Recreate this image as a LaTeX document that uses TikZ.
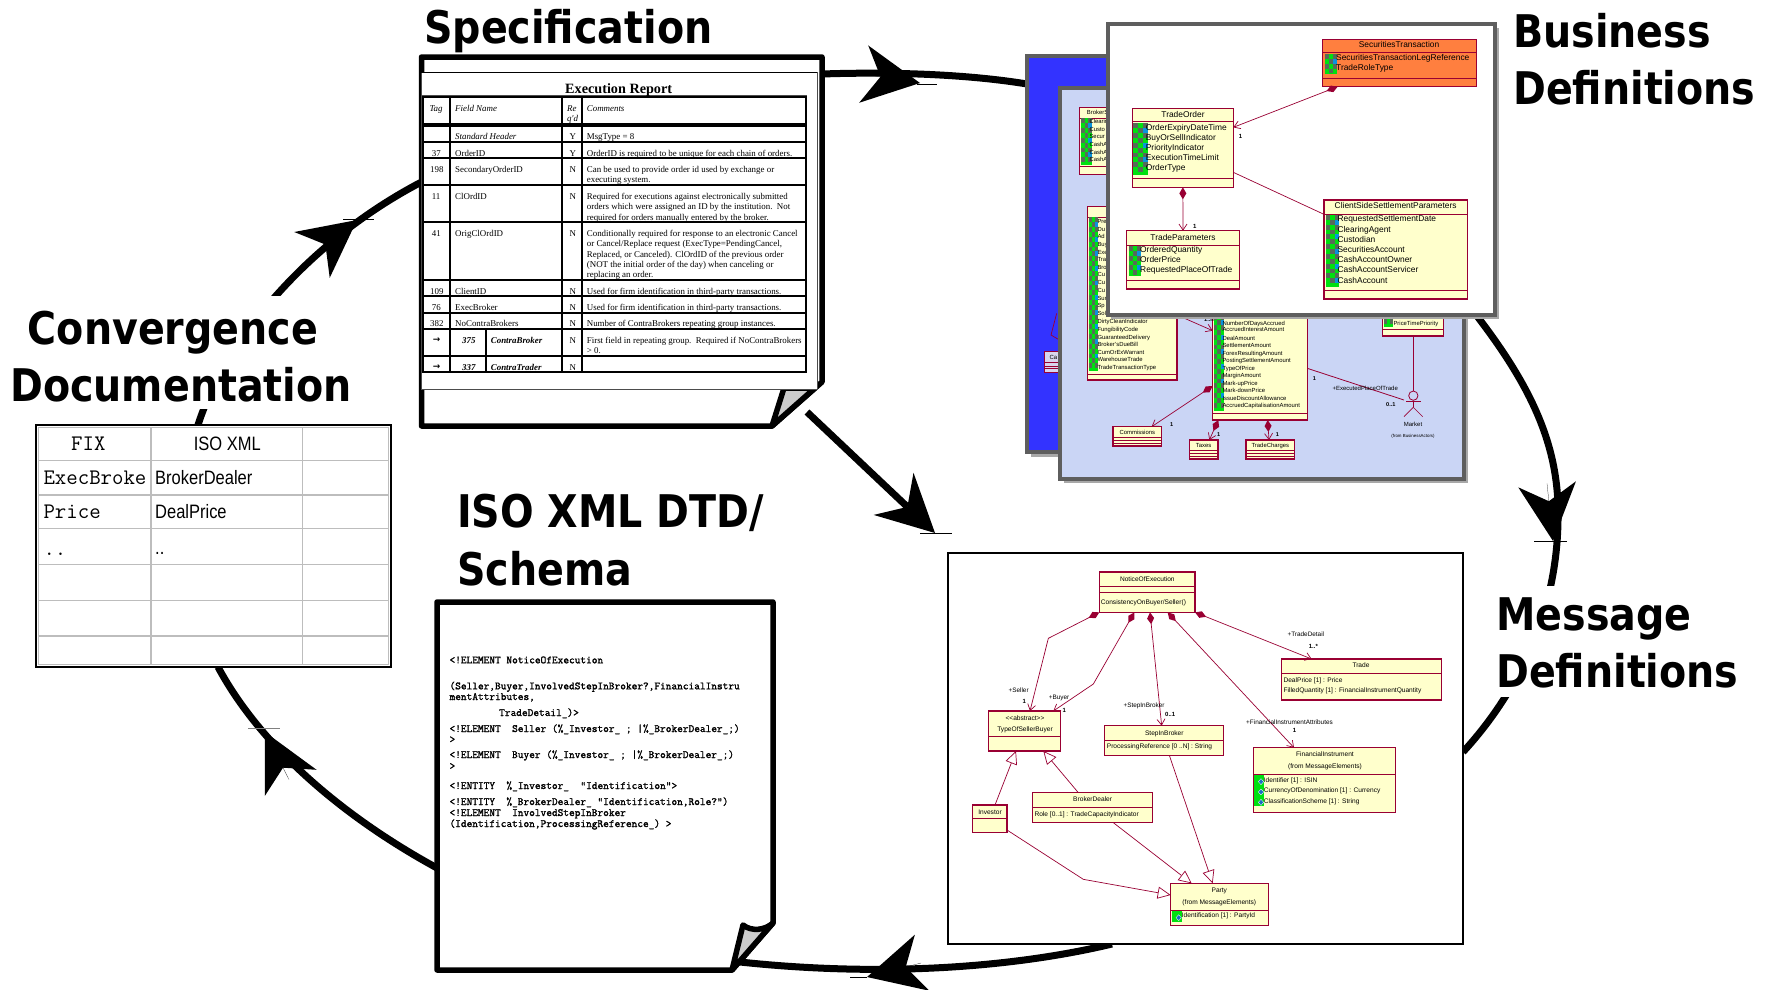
\documentclass[tikz,border=0pt]{standalone}
\usepackage{fontspec}
\usetikzlibrary{arrows.meta,calc}
\setmainfont{Liberation Sans}
\newfontfamily\serf{Liberation Serif}
\newfontfamily\arrf{DejaVu Sans}
\newfontfamily\monob[FakeBold=1.6]{Latin Modern Mono}
\newfontfamily\narrowf[FakeStretch=0.85]{Liberation Sans}
\newfontfamily\titlef[FakeStretch=0.88]{DejaVu Sans}
\definecolor{umlR}{HTML}{990033}
\definecolor{umlY}{HTML}{FFFFCC}
\definecolor{frameG}{HTML}{5E5E5E}
\definecolor{shadeG}{HTML}{A8A8A8}
\definecolor{peri}{HTML}{CAD5F5}
\definecolor{bluef}{HTML}{3333FF}
\definecolor{orangef}{HTML}{FF7F3F}
\definecolor{gridG}{HTML}{BDBDBD}
\definecolor{chkG}{HTML}{566B58}
\definecolor{chkL}{HTML}{00E010}
\newcounter{tn}
\def\tf{\normalfont}
\def\zs{1}
\newcommand\Tx[3]{\stepcounter{tn}\node[anchor=base west,inner sep=0pt,font=\tf] (t\arabic{tn}) at (#1,#2) {#3};}
\newcommand\Cx[3]{\stepcounter{tn}\node[anchor=base,inner sep=0pt,font=\tf] (t\arabic{tn}) at (#1,#2) {#3};}
\newcommand\bx[6][]{%
  \pgfmathsetmacro\bw{(#5-#3)*\zs}\pgfmathsetmacro\bh{(#6-#4)*\zs}%
  \node[rectangle,inner sep=0pt,outer sep=0pt,minimum width=\bw pt,minimum height=\bh pt,#1] (#2) at ({(#3+#5)/2},{(#4+#6)/2}) {};}
\newcommand\cls[5]{\bx[cbox]{#1}{#2}{#3}{#4}{#5}}
\newcommand\cln[2]{\draw[umlline] (#1.west |- 0,#2) -- (#1.east |- 0,#2);}
\newcommand\chk[4]{%
  \fill[chkL] (#1,#2) rectangle (#3,#4);
  \pgfmathsetmacro\cw{(#3-#1)/3}%
  \pgfmathtruncatemacro\rn{floor((#4-#2)/14.6)-1}%
  \foreach \i in {0,...,\rn}{\foreach \j in {0,1,2}{%
    \pgfmathsetmacro\xa{#1+\j*\cw}\pgfmathsetmacro\ya{#2+\i*14.6}%
    \pgfmathtruncatemacro\pty{mod(\i+\j,2)}%
    \pgfmathtruncatemacro\cy{(\j==2)&&(mod(\i,3)==1)}%
    \ifnum\cy=1 \fill[cyan!80!blue] (\xa,\ya) rectangle ++(\cw,14.6);
    \else\ifnum\pty=0 \fill[chkG] (\xa,\ya) rectangle ++(\cw,14.6);\fi\fi
  }}}
\newcommand\ico[2]{\filldraw[fill=cyan!50!blue,draw=white,line width=.3pt] (#1-8,#2) -- (#1,#2-9) -- (#1+8,#2) -- (#1,#2+9) -- cycle;}
\tikzset{
  cbox/.style={draw=umlR,fill=umlY,line width=1.1pt},
  umlline/.style={draw=umlR,line width=.9pt},
  frameb/.style={draw=frameG,line width=4pt},
  assoc/.style={draw=umlR,line width=.7pt},
  opena/.style={assoc,-{Straight Barb[length=6pt,width=8pt,line width=.7pt]}},
  dopen/.style={assoc,{Diamond[length=12pt,width=7pt,fill=umlR,line width=0pt]}-{Straight Barb[length=6pt,width=8pt,line width=.7pt]}},
  gen/.style={assoc,-{Triangle[open,length=13pt,width=12pt,fill=white,line width=.7pt]}},
  arc/.style={line width=7pt,black},
  bigh/.style={line width=.2pt,black,-{Stealth[length=57pt,width=58pt,inset=17pt,line width=0pt]}},
  tick/.style={line width=1pt,black},
  docshape/.style={draw=black,fill=white,line width=5.5pt,line join=round},
  titlen/.style={anchor=north west,align=left,inner sep=0pt,fill=white,font=\titlef\bfseries\fontsize{45}{57}\selectfont},
  tbl/.style={line width=1.7pt,black},
}
\begin{document}
\begin{tikzpicture}[x=1pt,y=-1pt]
\path[use as bounding box,fill=white] (0,0) rectangle (1773,989);
% --- anchor nodes for the main shapes (no drawing)
\bx{specdoc}{421.5}{57}{822}{426}
\bx{bluef}{1027}{55.5}{1200}{452}
\bx{frameB}{1060}{88}{1464}{479}
\bx{frameC}{1107.5}{23.7}{1495}{314.7}
\bx{msgf}{948}{553}{1463}{944}
\bx{isodoc}{437}{602}{773}{970}
\bx{ctable}{36}{425}{391}{667}
% --- main cycle arcs
\draw[arc] ([shift={(0,17)}]specdoc.north east) .. controls (880,72) and (960,73) .. ([shift={(0,28.5)}]bluef.north west);
\draw[arc] ([shift={(-19,0)}]frameC.south east) .. controls (1530,385) and (1560,445) .. (1558,520) .. controls (1557,610) and (1520,690) .. ([shift={(0,199)}]msgf.north east);
\draw[arc] ([shift={(164,0)}]msgf.south west) .. controls (1020,966) and (890,978) .. ([shift={(-33,-8)}]isodoc.south east);
\draw[arc] ([shift={(0,-102)}]isodoc.south west) .. controls (340,815) and (260,745) .. ([shift={(182,0)}]ctable.south west);
\draw[arc] ([shift={(162,0)}]ctable.north west) .. controls (225,340) and (310,240) .. ([shift={(0,125)}]specdoc.north west);
\draw[arc,-{Stealth[length=57pt,width=58pt,inset=19pt,line width=0pt]}] ([shift={(-15,-14)}]specdoc.south east) -- ([shift={(-13,-20)}]msgf.north west);
% --- arrow heads on the arcs
\coordinate (h1b) at (863,74); \coordinate (h1t) at (920,83);
\coordinate (h2b) at (1547,483.5); \coordinate (h2t) at (1553,541);
\coordinate (h4b) at (921,963); \coordinate (h4t) at (867,977);
\coordinate (h5b) at (289,779.5); \coordinate (h5t) at (265,732);
\coordinate (h6b) at (312.5,254.5); \coordinate (h6t) at (357,220);
\draw[bigh] (h1b) -- (h1t);
\draw[bigh] (h2b) -- (h2t);
\draw[bigh] (h4b) -- (h4t);
\draw[bigh] (h5b) -- (h5t);
\draw[bigh] (h6b) -- (h6t);
\coordinate (k1a) at (917,84); \coordinate (k1b) at (937,84); \draw[tick] (k1a) -- (k1b);
\coordinate (k2a) at (1534,541); \coordinate (k2b) at (1567,541); \draw[tick] (k2a) -- (k2b);
\coordinate (k3a) at (920,533); \coordinate (k3b) at (952,533); \draw[tick] (k3a) -- (k3b);
\coordinate (k4a) at (850,977); \coordinate (k4b) at (867,977); \draw[tick] (k4a) -- (k4b);
\coordinate (k5a) at (248,728); \coordinate (k5b) at (280,728); \draw[tick,gray] (k5a) -- (k5b);
\coordinate (k6a) at (343,219); \coordinate (k6b) at (374,219); \draw[tick] (k6a) -- (k6b);
% --- titles
\node[titlen] (tSpec) at (424,9) {Specification};
\node[titlen] (tBiz) at (1513,13) {Business\\Definitions};
\node[titlen] (tMsg) at (1496,586) {\rule{0pt}{44pt}Message\\Definitions\rule[-10pt]{0pt}{10pt}};
\node[titlen,anchor=north,align=center] (tConv) at (181,296) {\rule{0pt}{48pt}Convergence\hspace*{16pt}\\Documentation\rule[-8pt]{0pt}{8pt}};
\node[titlen] (tIso) at (457,494) {ISO XML DTD/\\[1pt]Schema};
% --- specification document
\draw[docshape] (421.5,57) -- (822,57) -- (822,382) -- (772,426) -- (421.5,426) -- cycle;
\draw[draw=black,fill=black!20,line width=5.5pt,line join=round] (772,426) -- (784,388) -- (815,388) -- cycle;
\bx[draw=black!70,fill=white,line width=1pt]{specimg}{421}{72}{817}{389}
\begin{scope}[shift={(400,40)},x=0.33333pt,y=-0.33333pt]
\def\zs{0.33333}
\draw[black!70,line width=.8pt] (63,165) -- (1220,165);
\draw[black,line width=1.6pt] (63,97) -- (1250,97);
\def\tf{\serf\bfseries\fontsize{14.2}{15}\selectfont}
\Cx{656}{159}{Execution Report}
\def\tf{\serf\fontsize{8.9}{10}\selectfont}
\Tx{88}{215}{\itshape Tag}\Tx{165}{215}{\itshape Field Name}\Tx{501}{215}{\itshape Re}\Tx{501}{245}{\itshape q'd}\Tx{560}{215}{\itshape Comments}
\Tx{165}{299}{\itshape Standard Header}\Tx{508}{299}{Y}\Tx{560}{299}{MsgType = 8}
\Tx{95}{350}{37}\Tx{165}{350}{OrderID}\Tx{508}{350}{Y}\Tx{560}{350}{OrderID is required to be unique for each chain of orders.}
\Tx{90}{398}{198}\Tx{165}{398}{SecondaryOrderID}\Tx{508}{398}{N}\Tx{560}{398}{Can be used to provide order id used by exchange or}\Tx{560}{428}{executing system.}
\Tx{95}{479}{11}\Tx{165}{479}{ClOrdID}\Tx{508}{479}{N}\Tx{560}{479}{Required for executions against electronically submitted}\Tx{560}{509}{orders which were assigned an ID by the institution.~~Not}\Tx{560}{542}{required for orders manually entered by the broker.}
\Tx{95}{590}{41}\Tx{165}{590}{OrigClOrdID}\Tx{508}{590}{N}\Tx{560}{590}{Conditionally required for response to an electronic Cancel}\Tx{560}{620}{or Cancel/Replace request (ExecType=PendingCancel,}\Tx{560}{653}{Replaced, or Canceled). ClOrdID of the previous order}\Tx{560}{683}{(NOT the initial order of the day) when canceling or}\Tx{560}{713}{replacing an order.}
\Tx{90}{764}{109}\Tx{165}{764}{ClientID}\Tx{508}{764}{N}\Tx{560}{764}{Used for firm identification in third-party transactions.}
\Tx{95}{812}{76}\Tx{165}{812}{ExecBroker}\Tx{508}{812}{N}\Tx{560}{812}{Used for firm identification in third-party transactions.}
\Tx{90}{860}{382}\Tx{165}{860}{NoContraBrokers}\Tx{508}{860}{N}\Tx{560}{860}{Number of ContraBrokers repeating group instances.}
\Tx{98}{908}{\arrf\bfseries →}\Tx{186}{911}{\bfseries\itshape 375}\Tx{272}{911}{\bfseries\itshape ContraBroker}\Tx{508}{911}{N}\Tx{560}{911}{First field in repeating group.~~Required if NoContraBrokers}\Tx{560}{941}{> 0.}
\Tx{98}{988}{\arrf\bfseries →}\Tx{186}{992}{\bfseries\itshape 337}\Tx{272}{992}{\bfseries\itshape ContraTrader}\Tx{508}{992}{N}
\foreach \y in {252,257,305,355,435,545,720,768,818,866,948}{\draw[tbl] (68,\y) -- (1218,\y);}
\draw[tbl,line width=2pt] (68,170) rectangle (1218,997);
\foreach \x in {150,487,547}{\draw[tbl] (\x,170) -- (\x,997);}
\draw[tbl] (258,866) -- (258,997);
\end{scope}
% --- blue frame
\fill[shadeG] (1031,60) rectangle (1204,457);
\bx[frameb,fill=bluef]{blueface}{1027}{55.5}{1200}{452}
\begin{scope}[shift={(1010,300)},x=0.33333pt,y=-0.33333pt]
\def\zs{0.33333}
\coordinate (caa) at (140,40); \coordinate (cab) at (123,105); \coordinate (cac) at (145,118);
\draw[assoc] (caa) -- (cab) -- (cac);
\bx[draw=umlR,fill=cyan!15!blue!15!white,line width=1pt]{cabox}{102}{155}{170}{218}
\draw[umlline] (102,187) -- (170,187); \draw[umlline] (102,198) -- (170,198); \draw[umlline] (102,206) -- (170,206);
\def\tf{\fontsize{6}{7}\selectfont}
\Tx{118}{178}{Ca}
\end{scope}
% --- periwinkle frame
\fill[shadeG] (1064,92) rectangle (1468,483);
\bx[frameb,fill=peri]{periface}{1060}{88}{1464}{479}
\begin{scope}[shift={(1010,10)},x=0.33333pt,y=-0.33333pt]
\def\zs{0.33333}
\def\tf{\fontsize{5.9}{7}\selectfont}
\cls{brokerS}{209}{293}{360}{493}
\cln{brokerS}{324}\cln{brokerS}{470}
\chk{213}{325}{246}{465}
\Tx{230}{313}{BrokerS}
\Tx{238}{341}{Clearin}\Tx{238}{365}{Custo}\Tx{238}{386}{Secur}\Tx{238}{410}{CashA}\Tx{238}{434}{CashA}\Tx{238}{455}{CashA}
\cls{bigA}{232}{590}{501}{1110}
\cln{bigA}{622}\cln{bigA}{1092}
\chk{238}{622}{264}{1082}
\Tx{262}{640}{Pre}\Tx{262}{663}{Du}\Tx{262}{685}{Ad}\Tx{262}{710}{Buy}\Tx{262}{733}{Exe}\Tx{262}{755}{Tra}\Tx{262}{778}{Bro}\Tx{262}{800}{Cu}\Tx{262}{823}{Cu}\Tx{262}{848}{Cu}\Tx{262}{870}{Sur}\Tx{262}{893}{Sp}\Tx{262}{915}{Sol}
\Tx{262}{940}{DirtyCleanIndicator}\Tx{262}{963}{FungibilityCode}\Tx{262}{987}{GuaranteedDelivery}\Tx{262}{1008}{Broker'sDueBill}\Tx{262}{1032}{CumOrExWarrant}\Tx{262}{1055}{WarehouseTrade}\Tx{262}{1077}{TradeTransactionType}
\end{scope}
\begin{scope}[shift={(1010,300)},x=0.33333pt,y=-0.33333pt]
\def\zs{0.33333}
\def\tf{\fontsize{5.9}{7}\selectfont}
\cls{bigB}{608}{10}{892}{360}
\cln{bigB}{340}
\chk{612}{46}{642}{332}
\Tx{637}{75}{NumberOfDaysAccrued}\Tx{637}{95}{AccruedInterestAmount}\Tx{637}{120}{DealAmount}\Tx{637}{143}{SettlementAmount}\Tx{637}{165}{ForexResultingAmount}\Tx{637}{188}{PostingSettlementAmount}\Tx{637}{210}{TypeOfPrice}\Tx{637}{233}{MarginAmount}\Tx{637}{257}{Mark-upPrice}\Tx{637}{278}{Mark-downPrice}\Tx{637}{302}{IssueDiscountAllowance}\Tx{637}{323}{AccruedCapitalisationAmount}
\cls{priceT}{1118}{20}{1300}{108}
\cln{priceT}{88}
\chk{1122}{58}{1150}{80}
\Tx{1150}{75}{PriceTimePriority}
\cls{comm}{309}{380}{454}{438}
\cln{comm}{412}\cln{comm}{422}\cln{comm}{430}
\Cx{382}{402}{Commissions}
\cls{taxes}{539}{420}{624}{477}
\cln{taxes}{450}\cln{taxes}{460}\cln{taxes}{468}
\Cx{581}{441}{Taxes}
\cls{charges}{708}{420}{853}{477}
\cln{charges}{450}\cln{charges}{460}\cln{charges}{468}
\Cx{781}{441}{TradeCharges}
\draw[dopen] ([shift={(0,-102)}]bigB.south west) -- ([shift={(116,0)}]comm.north west);
\draw[dopen] ([shift={(17,0)}]bigB.south west) -- ([shift={(59,0)}]taxes.north west);
\draw[dopen] ([shift={(165,0)}]bigB.south west) -- ([shift={(69,0)}]charges.north west);
\draw[opena] ([shift={(0,325)}]bigA.north east) -- ([shift={(0,82)}]bigB.north west);
\node[circle,draw=umlR,line width=.8pt,fill=peri,minimum size=9.3pt,inner sep=0pt] (market) at (1210,287) {};
\draw[umlline] (priceT.south -| market.north) -- (market.north);
\coordinate (mk1) at (1210,322); \coordinate (mkl) at (1182,350); \coordinate (mkr) at (1238,350);
\coordinate (ms1) at (1188,305); \coordinate (ms2) at (1232,305);
\draw[assoc] (market.south) -- (mk1); \draw[assoc] (ms1) -- (ms2); \draw[assoc] (mkl) -- (mk1) -- (mkr);
\coordinate (mex) at (1182,300);
\draw[assoc,line width=.8pt] ([shift={(0,-155)}]bigB.south east) -- (mex);
\def\tf{\fontsize{6}{7}\selectfont}
\Tx{967}{272}{+ExecutedPlaceOfTrade}
\Cx{1209}{380}{Market}
\def\tf{\fontsize{4.4}{5}\selectfont}
\Cx{1209}{413}{(from BusinessActors)}
\def\tf{\bfseries\fontsize{5.6}{7}\selectfont}
\Tx{582}{65}{1..n}\Tx{480}{380}{1}\Tx{621}{410}{1}\Tx{797}{410}{1}\Tx{908}{242}{1}\Tx{1128}{320}{0..1}
\end{scope}
% --- white frame
\fill[shadeG] (1111,28) rectangle (1499,319);
\bx[frameb,fill=white]{whiteface}{1107.5}{23.7}{1495}{314.7}
\begin{scope}[shift={(1010,10)},x=0.33333pt,y=-0.33333pt]
\def\zs{0.33333}
\def\tf{\fontsize{8.4}{10}\selectfont}
\bx[cbox,fill=orangef]{secT}{937}{88}{1400}{230}
\cln{secT}{128}\cln{secT}{205}
\chk{945}{132}{980}{192}
\Cx{1167}{113}{SecuritiesTransaction}
\Tx{978}{152}{SecuritiesTransactionLegReference}\Tx{978}{182}{TradeRoleType}
\cls{tradeO}{367}{296}{670}{532}
\cln{tradeO}{335}\cln{tradeO}{505}
\chk{370}{340}{413}{495}
\Cx{519}{323}{TradeOrder}
\Tx{407}{360}{OrderExpiryDateTime}\Tx{407}{392}{BuyOrSellIndicator}\Tx{407}{422}{PriorityIndicator}\Tx{407}{452}{ExecutionTimeLimit}\Tx{407}{482}{OrderType}
\cls{tradeP}{350}{662}{688}{837}
\cln{tradeP}{705}\cln{tradeP}{812}
\chk{358}{708}{392}{797}
\Cx{519}{690}{TradeParameters}
\Tx{390}{728}{OrderedQuantity}\Tx{390}{758}{OrderPrice}\Tx{390}{788}{RequestedPlaceOfTrade}
\cls{clientS}{942}{570}{1372}{867}
\cln{clientS}{613}\cln{clientS}{842}
\chk{948}{615}{988}{830}
\Cx{1157}{596}{ClientSideSettlementParameters}
\Tx{982}{635}{RequestedSettlementDate}\Tx{982}{668}{ClearingAgent}\Tx{982}{698}{Custodian}\Tx{982}{728}{SecuritiesAccount}\Tx{982}{758}{CashAccountOwner}\Tx{982}{788}{CashAccountServicer}\Tx{982}{821}{CashAccount}
\draw[dopen] ([shift={(46,0)}]secT.south west) -- ([shift={(0,56)}]tradeO.north east);
\draw[dopen] (tradeO.south) -- (tradeP.north);
\draw[assoc] ([shift={(0,191)}]tradeO.north east) -- ([shift={(0,43)}]clientS.north west);
\def\tf{\bfseries\fontsize{6}{7}\selectfont}
\Tx{686}{385}{1}\Tx{549}{655}{1}
\end{scope}
% --- message definitions frame
\bx[draw=black,fill=white,line width=1.6pt]{msgface}{948}{553}{1463}{944}
\begin{scope}[shift={(950,550)},x=0.33333pt,y=-0.33333pt]
\def\zs{0.33333}
\def\tf{\fontsize{6.6}{8}\selectfont}
\cls{noe}{448}{66}{735}{187}
\cln{noe}{108}\cln{noe}{128}
\Cx{592}{93}{NoticeOfExecution}\Tx{452}{162}{ConsistencyOnBuyer/Seller()}
\cls{trade}{995}{327}{1475}{450}
\cln{trade}{371}
\Cx{1233}{353}{Trade}\Tx{1000}{396}{DealPrice [1] : Price}\Tx{1000}{426}{FilledQuantity [1] : FinancialInstrumentQuantity}
\cls{typeSB}{116}{483}{332}{603}
\cln{typeSB}{558}
\Cx{225}{512}{<{}<abstract>{}>}\Cx{225}{543}{TypeOfSellerBuyer}
\cls{stepB}{464}{527}{820}{616}
\cln{stepB}{570}
\Cx{643}{555}{StepInBroker}\Tx{470}{595}{ProcessingReference [0 ..N] : String}
\cls{finI}{911}{593}{1337}{787}
\cln{finI}{672}
\fill[chkL] (912,675) rectangle (942,768);
\ico{933}{695}\ico{933}{726}\ico{933}{757}
\Cx{1125}{620}{FinancialInstrument}\Cx{1125}{656}{(from MessageElements)}
\Tx{941}{696}{Identifier [1] : ISIN}\Tx{941}{726}{CurrencyOfDenomination [1] : Currency}\Tx{941}{759}{ClassificationScheme [1] : String}
\cls{brokerD}{248}{728}{607}{818}
\cln{brokerD}{773}
\Cx{428}{755}{BrokerDealer}\Tx{253}{798}{Role [0..1] : TradeCapacityIndicator}
\cls{investor}{68}{765}{171}{847}
\cln{investor}{805}
\Cx{120}{792}{Investor}
\cls{party}{662}{1000}{955}{1126}
\cln{party}{1080}
\fill[chkL] (665,1083) rectangle (695,1116);
\ico{686}{1103}
\Cx{808}{1028}{Party}\Cx{808}{1064}{(from MessageElements)}\Tx{695}{1101}{Identification [1] : PartyId}
\coordinate (c1) at (295,265); \coordinate (c2) at (430,402); \coordinate (c3) at (400,988);
\draw[dopen] (noe.south west) -- (c1) -- ([shift={(124,0)}]typeSB.north west);
\draw[dopen] ([shift={(105,0)}]noe.south west) -- (c2) -- ([shift={(194,0)}]typeSB.north west);
\draw[dopen] ([shift={(152,0)}]noe.south west) -- ([shift={(171,0)}]stepB.north west);
\draw[dopen] ([shift={(205,0)}]noe.south west) -- ([shift={(121,0)}]finI.north west);
\draw[dopen] (noe.south east) -- ([shift={(90,0)}]trade.north west);
\draw[gen] ([shift={(67,0)}]investor.north west) -- ([shift={(82,0)}]typeSB.south west);
\draw[gen] ([shift={(137,0)}]brokerD.north west) -- ([shift={(164,0)}]typeSB.south west);
\draw[gen] ([shift={(242,0)}]brokerD.south west) -- ([shift={(63,0)}]party.north west);
\draw[gen] ([shift={(194,0)}]stepB.south west) -- ([shift={(126,0)}]party.north west);
\draw[gen] ([shift={(0,-7)}]investor.south east) -- (c3) -- ([shift={(0,-91)}]party.south west);
\def\tf{\fontsize{6.4}{8}\selectfont}
\Tx{175}{428}{+Seller}\Tx{296}{449}{+Buyer}\Tx{520}{473}{+StepInBroker}\Tx{888}{524}{+FinancialInstrumentAttributes}\Tx{1012}{260}{+TradeDetail}
\def\tf{\bfseries\fontsize{6}{7}\selectfont}
\Tx{217}{461}{1}\Tx{337}{487}{1}\Tx{645}{500}{0..1}\Tx{1028}{548}{1}\Tx{1076}{296}{1..*}
\end{scope}
% --- ISO document
\draw[docshape] (437,602) -- (773,602) -- (773,923) -- (732,970) -- (437,970) -- cycle;
\draw[draw=black,fill=black!20,line width=5.5pt,line join=round] (732,970) -- (743,925) .. controls (752,932) and (765,930) .. (773,923) -- cycle;
\begin{scope}[shift={(430,600)},x=0.33333pt,y=-0.33333pt]
\def\zs{0.33333}
\def\tf{\monob\fontsize{11.05}{12}\selectfont}
\Tx{58}{190}{<!ELEMENT NoticeOfExecution}
\Tx{58}{268}{(Seller,Buyer,InvolvedStepInBroker?,FinancialInstru}
\Tx{58}{300}{mentAttributes,}
\Tx{207}{348}{TradeDetail\_)>}
\Tx{58}{396}{<!ELEMENT~~Seller (\%\_Investor\_ ; |\%\_BrokerDealer\_;)}
\Tx{58}{428}{>}
\Tx{58}{474}{<!ELEMENT~~Buyer (\%\_Investor\_ ; |\%\_BrokerDealer\_;)}
\Tx{58}{508}{>}
\Tx{58}{567}{<!ENTITY~~\%\_Investor\_~~“Identification”>}
\Tx{58}{615}{<!ENTITY~~\%\_BrokerDealer\_ “Identification,Role?”)}
\Tx{58}{648}{<!ELEMENT~~InvolvedStepInBroker}
\Tx{58}{681}{(Identification,ProcessingReference\_) >}
\end{scope}
% --- convergence table
\bx[draw=black,fill=white,line width=2pt]{ctface}{36}{425}{391}{667}
\begin{scope}[shift={(20,410)},x=0.33333pt,y=-0.33333pt]
\def\zs{0.33333}
\draw[gridG,line width=1.6pt] (55,52) rectangle (1105,763);
\foreach \y in {152,255,355,463,572,678}{\draw[gridG,line width=1.6pt] (55,\y) -- (1105,\y);}
\foreach \x in {393,848}{\draw[gridG,line width=1.6pt] (\x,52) -- (\x,763);}
\def\tf{\normalfont\ttfamily\fontsize{22.2}{24}\selectfont}
\Cx{205}{122}{FIX}\Tx{70}{222}{ExecBroke}\Tx{70}{325}{Price}\Tx{70}{435}{..}
\def\tf{\narrowf\fontsize{19.4}{22}\selectfont}
\Cx{622}{122}{ISO XML}\Tx{405}{222}{BrokerDealer}\Tx{405}{325}{DealPrice}\Tx{405}{432}{..}
\end{scope}
\end{tikzpicture}
\end{document}
